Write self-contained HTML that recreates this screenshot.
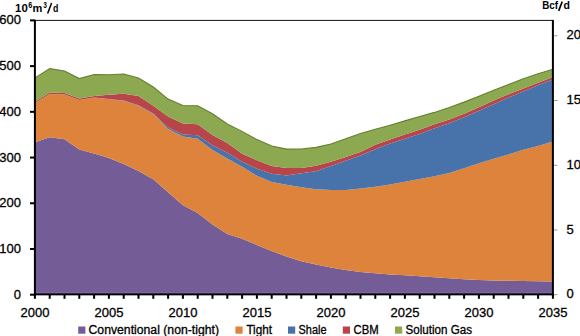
<!DOCTYPE html>
<html><head><meta charset="utf-8"><style>
html,body{margin:0;padding:0;background:#fff;width:580px;height:336px;overflow:hidden}
svg{display:block}
.n{font-family:"Liberation Sans",sans-serif;font-size:13px;fill:#000;stroke:#000;stroke-width:0.3px}
.t{font-family:"Liberation Sans",sans-serif;font-size:10.2px;font-weight:bold;fill:#000}
.l{font-family:"Liberation Sans",sans-serif;font-size:12px;fill:#000;stroke:#000;stroke-width:0.3px}
</style></head><body>
<svg width="580" height="336" viewBox="0 0 580 336">
<rect width="580" height="336" fill="#fff"/>
<path d="M34.90,142.21 L49.70,137.37 L64.50,139.24 L79.30,149.44 L94.10,153.50 L108.90,158.03 L123.70,164.11 L138.50,171.01 L153.30,179.33 L168.10,192.32 L182.90,205.21 L197.70,212.89 L212.50,224.41 L227.30,234.10 L242.10,238.63 L256.90,244.89 L271.70,251.02 L286.50,256.50 L301.30,261.21 L316.10,264.50 L330.90,267.52 L345.70,269.99 L360.50,271.91 L375.30,273.28 L390.10,274.42 L404.90,275.34 L419.70,276.25 L434.50,277.17 L449.30,278.31 L464.10,279.22 L478.90,280.00 L493.70,280.60 L508.50,280.69 L523.30,280.92 L538.10,281.24 L552.90,281.56 L552.90,294.70 L538.10,294.70 L523.30,294.70 L508.50,294.70 L493.70,294.70 L478.90,294.70 L464.10,294.70 L449.30,294.70 L434.50,294.70 L419.70,294.70 L404.90,294.70 L390.10,294.70 L375.30,294.70 L360.50,294.70 L345.70,294.70 L330.90,294.70 L316.10,294.70 L301.30,294.70 L286.50,294.70 L271.70,294.70 L256.90,294.70 L242.10,294.70 L227.30,294.70 L212.50,294.70 L197.70,294.70 L182.90,294.70 L168.10,294.70 L153.30,294.70 L138.50,294.70 L123.70,294.70 L108.90,294.70 L94.10,294.70 L79.30,294.70 L64.50,294.70 L49.70,294.70 L34.90,294.70Z" fill="#745D96"/>
<path d="M34.90,103.03 L49.70,93.98 L64.50,94.44 L79.30,99.92 L94.10,97.46 L108.90,99.28 L123.70,100.84 L138.50,105.68 L153.30,114.00 L168.10,128.95 L182.90,136.54 L197.70,138.78 L212.50,149.89 L227.30,158.58 L242.10,166.81 L256.90,175.72 L271.70,182.12 L286.50,184.87 L301.30,187.24 L316.10,189.25 L330.90,189.89 L345.70,189.89 L360.50,188.52 L375.30,186.83 L390.10,184.41 L404.90,181.85 L419.70,178.92 L434.50,176.18 L449.30,172.98 L464.10,168.32 L478.90,163.29 L493.70,158.85 L508.50,154.60 L523.30,149.85 L538.10,145.92 L552.90,141.43 L552.90,281.56 L538.10,281.24 L523.30,280.92 L508.50,280.69 L493.70,280.60 L478.90,280.00 L464.10,279.22 L449.30,278.31 L434.50,277.17 L419.70,276.25 L404.90,275.34 L390.10,274.42 L375.30,273.28 L360.50,271.91 L345.70,269.99 L330.90,267.52 L316.10,264.50 L301.30,261.21 L286.50,256.50 L271.70,251.02 L256.90,244.89 L242.10,238.63 L227.30,234.10 L212.50,224.41 L197.70,212.89 L182.90,205.21 L168.10,192.32 L153.30,179.33 L138.50,171.01 L123.70,164.11 L108.90,158.03 L94.10,153.50 L79.30,149.44 L64.50,139.24 L49.70,137.37 L34.90,142.21Z" fill="#DD833C"/>
<path d="M34.90,103.03 L49.70,93.98 L64.50,94.44 L79.30,99.92 L94.10,97.46 L108.90,99.06 L123.70,100.43 L138.50,105.23 L153.30,113.55 L168.10,127.49 L182.90,134.58 L197.70,135.26 L212.50,145.32 L227.30,152.86 L242.10,161.78 L256.90,168.64 L271.70,173.71 L286.50,175.45 L301.30,173.21 L316.10,171.15 L330.90,166.12 L345.70,160.86 L360.50,155.38 L375.30,149.21 L390.10,143.58 L404.90,138.65 L419.70,133.98 L434.50,128.36 L449.30,123.29 L464.10,117.20 L478.90,110.80 L493.70,104.18 L508.50,97.55 L523.30,91.38 L538.10,85.20 L552.90,79.58 L552.90,141.43 L538.10,145.92 L523.30,149.85 L508.50,154.60 L493.70,158.85 L478.90,163.29 L464.10,168.32 L449.30,172.98 L434.50,176.18 L419.70,178.92 L404.90,181.85 L390.10,184.41 L375.30,186.83 L360.50,188.52 L345.70,189.89 L330.90,189.89 L316.10,189.25 L301.30,187.24 L286.50,184.87 L271.70,182.12 L256.90,175.72 L242.10,166.81 L227.30,158.58 L212.50,149.89 L197.70,138.78 L182.90,136.54 L168.10,128.95 L153.30,114.00 L138.50,105.68 L123.70,100.84 L108.90,99.28 L94.10,97.46 L79.30,99.92 L64.50,94.44 L49.70,93.98 L34.90,103.03Z" fill="#4773AA"/>
<path d="M34.90,101.66 L49.70,92.61 L64.50,93.07 L79.30,98.55 L94.10,96.08 L108.90,94.71 L123.70,93.80 L138.50,96.08 L153.30,105.78 L168.10,116.61 L182.90,123.61 L197.70,124.29 L212.50,135.03 L227.30,143.03 L242.10,153.78 L256.90,160.18 L271.70,166.12 L286.50,167.95 L301.30,168.04 L316.10,165.85 L330.90,161.87 L345.70,156.98 L360.50,151.95 L375.30,144.63 L390.10,139.42 L404.90,134.39 L419.70,129.82 L434.50,124.25 L449.30,119.49 L464.10,113.73 L478.90,107.15 L493.70,100.52 L508.50,94.35 L523.30,88.40 L538.10,82.69 L552.90,76.97 L552.90,79.58 L538.10,85.20 L523.30,91.38 L508.50,97.55 L493.70,104.18 L478.90,110.80 L464.10,117.20 L449.30,123.29 L434.50,128.36 L419.70,133.98 L404.90,138.65 L390.10,143.58 L375.30,149.21 L360.50,155.38 L345.70,160.86 L330.90,166.12 L316.10,171.15 L301.30,173.21 L286.50,175.45 L271.70,173.71 L256.90,168.64 L242.10,161.78 L227.30,152.86 L212.50,145.32 L197.70,135.26 L182.90,134.58 L168.10,127.49 L153.30,113.55 L138.50,105.23 L123.70,100.43 L108.90,99.06 L94.10,97.46 L79.30,99.92 L64.50,94.44 L49.70,93.98 L34.90,103.03Z" fill="#B7454A"/>
<path d="M34.90,77.89 L49.70,68.61 L64.50,71.03 L79.30,78.57 L94.10,74.46 L108.90,74.69 L123.70,74.00 L138.50,78.07 L153.30,87.03 L168.10,99.10 L182.90,105.50 L197.70,105.78 L212.50,113.78 L227.30,124.06 L242.10,131.38 L256.90,139.61 L271.70,145.96 L286.50,149.12 L301.30,148.93 L316.10,147.38 L330.90,144.04 L345.70,138.69 L360.50,133.43 L375.30,129.32 L390.10,125.21 L404.90,120.86 L419.70,116.52 L434.50,112.40 L449.30,107.60 L464.10,102.12 L478.90,96.18 L493.70,90.23 L508.50,84.52 L523.30,78.80 L538.10,73.77 L552.90,69.20 L552.90,76.97 L538.10,82.69 L523.30,88.40 L508.50,94.35 L493.70,100.52 L478.90,107.15 L464.10,113.73 L449.30,119.49 L434.50,124.25 L419.70,129.82 L404.90,134.39 L390.10,139.42 L375.30,144.63 L360.50,151.95 L345.70,156.98 L330.90,161.87 L316.10,165.85 L301.30,168.04 L286.50,167.95 L271.70,166.12 L256.90,160.18 L242.10,153.78 L227.30,143.03 L212.50,135.03 L197.70,124.29 L182.90,123.61 L168.10,116.61 L153.30,105.78 L138.50,96.08 L123.70,93.80 L108.90,94.71 L94.10,96.08 L79.30,98.55 L64.50,93.07 L49.70,92.61 L34.90,101.66Z" fill="#8CA850"/>
<path d="M34.90,77.89 L49.70,68.61 L64.50,71.03 L79.30,78.57 L94.10,74.46 L108.90,74.69 L123.70,74.00 L138.50,78.07 L153.30,87.03 L168.10,99.10 L182.90,105.50 L197.70,105.78 L212.50,113.78 L227.30,124.06 L242.10,131.38 L256.90,139.61 L271.70,145.96 L286.50,149.12 L301.30,148.93 L316.10,147.38 L330.90,144.04 L345.70,138.69 L360.50,133.43 L375.30,129.32 L390.10,125.21 L404.90,120.86 L419.70,116.52 L434.50,112.40 L449.30,107.60 L464.10,102.12 L478.90,96.18 L493.70,90.23 L508.50,84.52 L523.30,78.80 L538.10,73.77 L552.90,69.20" fill="none" stroke="#63802F" stroke-width="1.1"/>
<rect x="34.9" y="19.9" width="518" height="1" fill="#111"/>
<rect x="33.9" y="19.9" width="2" height="276" fill="#000"/>
<rect x="551.9" y="19.9" width="2" height="276" fill="#000"/>
<rect x="35.9" y="292.3" width="516" height="1.1" fill="#8469B2"/>
<rect x="33.9" y="293.4" width="520" height="1.95" fill="#000"/>
<rect x="30" y="293.70" width="5" height="2" fill="#000"/>
<text x="21" y="298.70" text-anchor="end" class="n">0</text>
<rect x="30" y="247.98" width="5" height="2" fill="#000"/>
<text x="21" y="252.98" text-anchor="end" class="n">100</text>
<rect x="30" y="202.27" width="5" height="2" fill="#000"/>
<text x="21" y="207.27" text-anchor="end" class="n">200</text>
<rect x="30" y="156.55" width="5" height="2" fill="#000"/>
<text x="21" y="161.55" text-anchor="end" class="n">300</text>
<rect x="30" y="110.83" width="5" height="2" fill="#000"/>
<text x="21" y="115.83" text-anchor="end" class="n">400</text>
<rect x="30" y="65.12" width="5" height="2" fill="#000"/>
<text x="21" y="70.12" text-anchor="end" class="n">500</text>
<rect x="30" y="19.40" width="5" height="2" fill="#000"/>
<text x="21" y="24.40" text-anchor="end" class="n">600</text>
<rect x="33.90" y="294" width="2" height="4.8" fill="#000"/>
<rect x="48.70" y="294" width="2" height="4.8" fill="#000"/>
<rect x="63.50" y="294" width="2" height="4.8" fill="#000"/>
<rect x="78.30" y="294" width="2" height="4.8" fill="#000"/>
<rect x="93.10" y="294" width="2" height="4.8" fill="#000"/>
<rect x="107.90" y="294" width="2" height="4.8" fill="#000"/>
<rect x="122.70" y="294" width="2" height="4.8" fill="#000"/>
<rect x="137.50" y="294" width="2" height="4.8" fill="#000"/>
<rect x="152.30" y="294" width="2" height="4.8" fill="#000"/>
<rect x="167.10" y="294" width="2" height="4.8" fill="#000"/>
<rect x="181.90" y="294" width="2" height="4.8" fill="#000"/>
<rect x="196.70" y="294" width="2" height="4.8" fill="#000"/>
<rect x="211.50" y="294" width="2" height="4.8" fill="#000"/>
<rect x="226.30" y="294" width="2" height="4.8" fill="#000"/>
<rect x="241.10" y="294" width="2" height="4.8" fill="#000"/>
<rect x="255.90" y="294" width="2" height="4.8" fill="#000"/>
<rect x="270.70" y="294" width="2" height="4.8" fill="#000"/>
<rect x="285.50" y="294" width="2" height="4.8" fill="#000"/>
<rect x="300.30" y="294" width="2" height="4.8" fill="#000"/>
<rect x="315.10" y="294" width="2" height="4.8" fill="#000"/>
<rect x="329.90" y="294" width="2" height="4.8" fill="#000"/>
<rect x="344.70" y="294" width="2" height="4.8" fill="#000"/>
<rect x="359.50" y="294" width="2" height="4.8" fill="#000"/>
<rect x="374.30" y="294" width="2" height="4.8" fill="#000"/>
<rect x="389.10" y="294" width="2" height="4.8" fill="#000"/>
<rect x="403.90" y="294" width="2" height="4.8" fill="#000"/>
<rect x="418.70" y="294" width="2" height="4.8" fill="#000"/>
<rect x="433.50" y="294" width="2" height="4.8" fill="#000"/>
<rect x="448.30" y="294" width="2" height="4.8" fill="#000"/>
<rect x="463.10" y="294" width="2" height="4.8" fill="#000"/>
<rect x="477.90" y="294" width="2" height="4.8" fill="#000"/>
<rect x="492.70" y="294" width="2" height="4.8" fill="#000"/>
<rect x="507.50" y="294" width="2" height="4.8" fill="#000"/>
<rect x="522.30" y="294" width="2" height="4.8" fill="#000"/>
<rect x="537.10" y="294" width="2" height="4.8" fill="#000"/>
<rect x="551.90" y="294" width="2" height="4.8" fill="#000"/>
<text x="34.90" y="316.9" text-anchor="middle" class="n">2000</text>
<text x="108.90" y="316.9" text-anchor="middle" class="n">2005</text>
<text x="182.90" y="316.9" text-anchor="middle" class="n">2010</text>
<text x="256.90" y="316.9" text-anchor="middle" class="n">2015</text>
<text x="330.90" y="316.9" text-anchor="middle" class="n">2020</text>
<text x="404.90" y="316.9" text-anchor="middle" class="n">2025</text>
<text x="478.90" y="316.9" text-anchor="middle" class="n">2030</text>
<text x="552.90" y="316.9" text-anchor="middle" class="n">2035</text>
<rect x="553.9" y="294.20" width="3.5" height="1" fill="#999"/>
<text x="566.5" y="298.40" class="n">0</text>
<rect x="553.9" y="229.47" width="3.5" height="1" fill="#999"/>
<text x="566.5" y="233.67" class="n">5</text>
<rect x="553.9" y="164.75" width="3.5" height="1" fill="#999"/>
<text x="566.5" y="168.95" class="n">10</text>
<rect x="553.9" y="100.02" width="3.5" height="1" fill="#999"/>
<text x="566.5" y="104.22" class="n">15</text>
<rect x="553.9" y="35.29" width="3.5" height="1" fill="#999"/>
<text x="566.5" y="39.49" class="n">20</text>
<text x="15.1" y="11.6" class="t" textLength="12.7" lengthAdjust="spacingAndGlyphs">10</text>
<text x="28.3" y="8.3" class="t" style="font-size:8.4px" textLength="4" lengthAdjust="spacingAndGlyphs">6</text>
<text x="32.6" y="11.6" class="t" textLength="9.8" lengthAdjust="spacingAndGlyphs">m</text>
<text x="43.2" y="8.3" class="t" style="font-size:8.4px" textLength="3.6" lengthAdjust="spacingAndGlyphs">3</text>
<path d="M47.6,13.4 L51.6,3.1" stroke="#000" stroke-width="1.5"/>
<text x="53" y="11.6" class="t" textLength="5.4" lengthAdjust="spacingAndGlyphs">d</text>
<text x="542.2" y="8.8" class="t" textLength="15.8" lengthAdjust="spacingAndGlyphs">Bcf</text>
<path d="M558.7,10.9 L562.2,1.6" stroke="#000" stroke-width="1.6"/>
<text x="563.5" y="8.8" class="t" textLength="6.4" lengthAdjust="spacingAndGlyphs">d</text>
<rect x="78.2" y="326.5" width="7.2" height="7.2" fill="#745D96"/>
<text x="88.5" y="334" class="l" textLength="130.5" lengthAdjust="spacingAndGlyphs">Conventional (non-tight)</text>
<rect x="235.4" y="326.5" width="7.2" height="7.2" fill="#DD833C"/>
<text x="246.4" y="334" class="l" textLength="25.6" lengthAdjust="spacingAndGlyphs">Tight</text>
<rect x="288" y="326.5" width="7.2" height="7.2" fill="#4773AA"/>
<text x="298.6" y="334" class="l" textLength="27.9" lengthAdjust="spacingAndGlyphs">Shale</text>
<rect x="342.8" y="326.5" width="7.2" height="7.2" fill="#B7454A"/>
<text x="353.6" y="334" class="l" textLength="25.1" lengthAdjust="spacingAndGlyphs">CBM</text>
<rect x="395" y="326.5" width="7.2" height="7.2" fill="#8CA850"/>
<text x="405.6" y="334" class="l" textLength="66.4" lengthAdjust="spacingAndGlyphs">Solution Gas</text>
</svg>
</body></html>
